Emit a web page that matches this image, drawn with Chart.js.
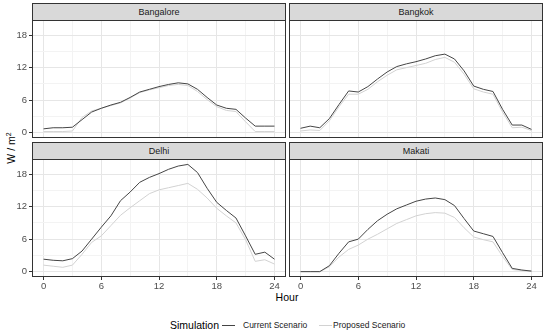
<!DOCTYPE html>
<html>
<head>
<meta charset="utf-8">
<script src="https://cdn.jsdelivr.net/npm/chart.js@4.4.1/dist/chart.umd.min.js"></script>
<style>
body { margin: 0; background: #fff; width: 550px; height: 336px; position: relative; overflow: hidden; font-family: "Liberation Sans", Arial, sans-serif; }
canvas { position: absolute; }
.strip { position: absolute; height: 18px; background: #d9d9d9; border: 1px solid #333; box-sizing: border-box; text-align: center; font-size: 9px; line-height: 16px; color: #1a1a1a; }
.lbl { position: absolute; white-space: nowrap; color: #000; }
.key { position: absolute; height: 0; width: 13px; border-top: 1px solid; }
</style>
</head>
<body>
<div class="lbl" style="left:11px;top:148px;font-size:10.5px;transform:translate(-50%,-50%) rotate(-90deg);">W / m<sup style="font-size:7px">2</sup></div>
<div class="lbl" style="left:287px;top:297px;font-size:10.5px;transform:translate(-50%,-50%);">Hour</div>

<div class="lbl" style="left:170px;top:325px;font-size:10.5px;transform:translateY(-50%);">Simulation</div>
<div class="key" style="left:222px;top:325px;border-color:#444;"></div>
<div class="lbl" style="left:243px;top:325px;font-size:8.5px;color:#1a1a1a;transform:translateY(-50%);">Current Scenario</div>
<div class="key" style="left:319px;top:325px;border-color:#d2d2d2;"></div>
<div class="lbl" style="left:333px;top:325px;font-size:8.5px;color:#1a1a1a;transform:translateY(-50%);">Proposed Scenario</div>

<script>
const hours = [0, 1, 2, 3, 4, 5, 6, 7, 8, 9, 10, 11, 12, 13, 14, 15, 16, 17, 18, 19, 20, 21, 22, 23, 24];
const cities = ["Bangalore", "Bangkok", "Delhi", "Makati"];
const seriesNames = ["Current Scenario", "Proposed Scenario"];

const bangaloreCurrent = [0.7, 0.9, 0.9, 1.0, 2.4, 3.8, 4.5, 5.1, 5.6, 6.5, 7.5, 8.0, 8.5, 8.9, 9.2, 9.0, 8.0, 6.5, 5.1, 4.5, 4.3, 2.7, 1.2, 1.2, 1.2];
const bangaloreProposed = [0.2, 0.2, 0.2, 0.3, 2.8, 4.0, 4.5, 5.0, 5.5, 6.4, 7.4, 7.9, 8.3, 8.7, 8.9, 8.7, 7.6, 6.1, 4.8, 4.1, 3.9, 2.0, 0.2, 0.2, 0.2];
const bangkokCurrent = [0.8, 1.2, 0.9, 2.6, 5.2, 7.7, 7.5, 8.5, 9.9, 11.2, 12.2, 12.7, 13.1, 13.6, 14.2, 14.5, 13.6, 11.4, 8.6, 8.0, 7.6, 4.3, 1.4, 1.4, 0.6];
const bangkokProposed = [0.3, 0.5, 0.4, 2.2, 4.8, 7.1, 7.1, 8.0, 9.4, 10.6, 11.6, 12.0, 12.4, 12.8, 13.5, 13.9, 13.0, 10.8, 8.1, 7.5, 7.1, 3.8, 0.9, 1.0, 0.4];
const delhiCurrent = [2.3, 2.1, 2.0, 2.4, 3.8, 6.0, 8.2, 10.3, 13.1, 14.7, 16.5, 17.4, 18.1, 18.9, 19.5, 19.8, 18.3, 15.4, 12.8, 11.3, 9.9, 6.6, 3.2, 3.6, 2.3];
const delhiProposed = [1.2, 1.0, 0.8, 1.2, 3.2, 5.4, 6.6, 8.5, 10.4, 11.8, 13.1, 14.4, 15.1, 15.5, 15.9, 16.3, 15.2, 13.6, 11.7, 10.3, 9.0, 5.9, 1.9, 2.2, 1.4];
const makatiCurrent = [0, 0, 0, 1.1, 3.4, 5.5, 6.0, 7.8, 9.4, 10.6, 11.6, 12.3, 13.0, 13.4, 13.6, 13.3, 12.2, 9.8, 7.5, 7.0, 6.5, 3.5, 0.6, 0.3, 0.1];
const makatiProposed = [0, 0, 0, 0.9, 2.7, 4.1, 4.9, 6.0, 6.9, 7.9, 8.9, 9.6, 10.3, 10.7, 10.9, 10.8, 10.0, 8.1, 6.4, 5.9, 5.5, 2.8, 0.4, 0.2, 0.1];

const xTicks = [0, 3, 6, 9, 12, 15, 18, 21, 24];
const yTicks = [0, 3, 6, 9, 12, 15, 18];

// panel boxes on the page (plot area only)
const panels = [
    { left: 32, top: 20, showY: true, showX: false, current: bangaloreCurrent, proposed: bangaloreProposed },
    { left: 289, top: 20, showY: false, showX: false, current: bangkokCurrent, proposed: bangkokProposed },
    { left: 32, top: 159, showY: true, showX: true, current: delhiCurrent, proposed: delhiProposed },
    { left: 289, top: 159, showY: false, showX: true, current: makatiCurrent, proposed: makatiProposed }
];
const panelW = 254;
const panelH = 118;
const yAxisW = 32;
const xAxisH = 14;
const pad = 10;

const isMajor = (ctx) => ctx.tick && ctx.tick.value % 6 === 0;
const gridColor = (ctx) => (isMajor(ctx) ? "#e6e6e6" : "#f3f3f3");
const tickColor = (ctx) => (isMajor(ctx) ? "#333" : "rgba(0,0,0,0)");
const tickFont = { family: "'Liberation Sans', Arial, sans-serif", size: 9.5 };

const panelBorder = {
    id: "panelBorder",
    afterDraw(chart) {
        const { ctx, chartArea: a } = chart;
        ctx.save();
        ctx.strokeStyle = "#333";
        ctx.lineWidth = 1;
        ctx.strokeRect(a.left + 0.5, a.top + 0.5, a.right - a.left - 1, a.bottom - a.top - 1);
        ctx.restore();
    }
};

panels.forEach((p, i) => {
    const strip = document.createElement("div");
    strip.className = "strip";
    strip.style.left = p.left + "px";
    strip.style.top = (p.top - 17) + "px";
    strip.style.width = panelW + "px";
    strip.textContent = cities[i];
    document.body.appendChild(strip);

    const yW = p.showY ? yAxisW : 0;
    const xH = p.showX ? xAxisH : 0;
    const canvas = document.createElement("canvas");
    canvas.width = panelW + yW + pad * 2;
    canvas.height = panelH + xH + pad * 2;
    canvas.style.left = (p.left - yW - pad) + "px";
    canvas.style.top = (p.top - pad) + "px";
    document.body.appendChild(canvas);

    const toPoints = (vals) => hours.map((h, k) => ({ x: h, y: vals[k] }));

    new Chart(canvas, {
        type: "line",
        data: {
            datasets: [
                { label: seriesNames[0], data: toPoints(p.current), borderColor: "#454545", borderWidth: 1, pointRadius: 0, tension: 0 },
                { label: seriesNames[1], data: toPoints(p.proposed), borderColor: "#d2d2d2", borderWidth: 1, pointRadius: 0, tension: 0 }
            ]
        },
        options: {
            responsive: false,
            animation: false,
            layout: { padding: pad },
            plugins: { legend: { display: false }, tooltip: { enabled: false } },
            scales: {
                x: {
                    type: "linear",
                    min: -1.2,
                    max: 25.2,
                    afterBuildTicks: (s) => { s.ticks = xTicks.map((v) => ({ value: v })); },
                    afterFit: (s) => { s.height = xH; },
                    border: { display: false },
                    grid: { color: gridColor, lineWidth: 1, drawTicks: p.showX, tickLength: 3, tickColor: tickColor, tickWidth: 1 },
                    ticks: {
                        display: p.showX,
                        autoSkip: false,
                        maxRotation: 0,
                        padding: 1,
                        color: "#4d4d4d",
                        font: tickFont,
                        callback: (v) => (v % 6 === 0 ? v : "")
                    }
                },
                y: {
                    min: -0.99,
                    max: 20.8,
                    afterBuildTicks: (s) => { s.ticks = yTicks.map((v) => ({ value: v })); },
                    afterFit: (s) => { s.width = yW; },
                    border: { display: false },
                    grid: { color: gridColor, lineWidth: 1, drawTicks: p.showY, tickLength: 3, tickColor: tickColor, tickWidth: 1 },
                    ticks: {
                        display: p.showY,
                        padding: 2,
                        color: "#4d4d4d",
                        font: tickFont,
                        callback: (v) => (v % 6 === 0 ? v : "")
                    }
                }
            }
        },
        plugins: [panelBorder]
    });
});
</script>
</body>
</html>
